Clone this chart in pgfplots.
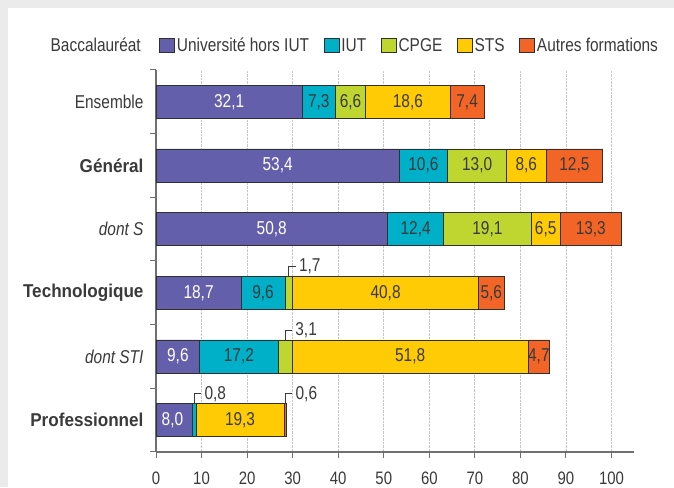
\documentclass[border=0pt]{standalone}
\usepackage{fontspec}
\setmainfont{Liberation Sans}[UprightFeatures={FakeStretch=0.83}, BoldFeatures={FakeStretch=0.92}, ItalicFeatures={FakeStretch=0.83}]
\usepackage{pgfplots}
\usepackage{pgfplotstable}
\pgfplotsset{compat=1.18}
\definecolor{univ}{HTML}{645FAA}
\definecolor{iut}{HTML}{00B0C8}
\definecolor{cpge}{HTML}{BED62F}
\definecolor{sts}{HTML}{FFCB05}
\definecolor{autres}{HTML}{F26526}
\definecolor{bggray}{HTML}{EBEBEB}
\definecolor{axisgray}{HTML}{707070}
\definecolor{txt}{HTML}{3A3A3A}
\definecolor{bord}{HTML}{303030}
\newcommand\fsz{\fontsize{18.6}{22}\selectfont}
\newcommand\ftz{\fontsize{18}{22}\selectfont}
\pgfplotstableread{
y  u    i    c    s    a
0  8.0  0.8  0.0  19.3 0.6
1  9.6  17.2 3.1  51.8 4.7
2  18.7 9.6  1.7  40.8 5.6
3  50.8 12.4 19.1 6.5  13.3
4  53.4 10.6 13.0 8.6  12.5
5  32.1 7.3  6.6  18.6 7.4
}\mydata
\tikzset{
  lab/.style={font=\fsz, text=txt, inner sep=0pt},
  labw/.style={font=\fsz, text=white, inner sep=0pt},
  lead/.style={line width=0.8pt, draw=txt},
  leadlab/.style={font=\fsz, text=txt, inner sep=0pt, anchor=west, xshift=3pt},
}
\begin{document}
\begin{tikzpicture}[x=1pt,y=1pt]
\useasboundingbox (0,0) rectangle (674,487);
\fill[bggray] (0,0) rectangle (674,487);
\fill[white] (8,0) rectangle (674,479);
\node[font=\fsz, text=txt, inner sep=0pt, anchor=base east] at (141,435) {Baccalauréat};
\begin{axis}[
  at={(156pt,35pt)}, anchor=south west,
  scale only axis, width=478.3pt, height=382pt,
  xbar stacked, bar width=33pt,
  xmin=0, xmax=105, ymin=-0.5, ymax=5.5,
  axis lines*=left,
  axis line style={axisgray, line width=1.2pt},
  xtick={0,10,...,100},
  /pgf/number format/assume math mode=true,
  tick align=outside, major tick length=6pt,
  tick style={axisgray, line width=1pt},
  xmajorgrids, major grid style={densely dotted, gray!45, line width=0.8pt},
  xticklabel style={font=\ftz, text=txt, yshift=-10.5pt},
  ytick={-0.5,0.5,...,5.5}, yticklabels={},
  extra y ticks={0,1,2,3,4,5},
  extra y tick labels={\textbf{Professionnel},\textit{dont STI},\textbf{Technologique},\textit{dont S},\textbf{Général},Ensemble},
  extra y tick style={major tick length=0pt, grid=none, yticklabel style={font=\fsz, text=txt, xshift=-9pt}},
  legend columns=-1,
  legend style={draw=none, fill=none, at={(0.0,1.064)}, anchor=west, font=\fsz, text=txt,
    nodes={inner sep=1pt},
    /tikz/every odd column/.append style={column sep=1pt},
    /tikz/every even column/.append style={column sep=13.5pt}},
  legend image code/.code={\draw[#1, line width=0.8pt, draw=bord] (0pt,-7pt) rectangle (15pt,7pt);},
]
\addplot[fill=univ, draw=bord, line width=0.8pt] table[x=u, y=y] {\mydata};
\addplot[fill=iut, draw=bord, line width=0.8pt] table[x=i, y=y] {\mydata};
\addplot[fill=cpge, draw=bord, line width=0.8pt] table[x=c, y=y] {\mydata};
\addplot[fill=sts, draw=bord, line width=0.8pt] table[x=s, y=y] {\mydata};
\addplot[fill=autres, draw=bord, line width=0.8pt] table[x=a, y=y] {\mydata};
\legend{Université hors IUT,IUT,CPGE,STS,Autres formations}
% label anchors (midpoints of segments)
\coordinate (e1) at (axis cs:16.05,5);
\coordinate (e2) at (axis cs:35.75,5);
\coordinate (e3) at (axis cs:42.7,5);
\coordinate (e4) at (axis cs:55.3,5);
\coordinate (e5) at (axis cs:68.3,5);
\coordinate (g1) at (axis cs:26.7,4);
\coordinate (g2) at (axis cs:58.7,4);
\coordinate (g3) at (axis cs:70.5,4);
\coordinate (g4) at (axis cs:81.3,4);
\coordinate (g5) at (axis cs:91.85,4);
\coordinate (s1) at (axis cs:25.4,3);
\coordinate (s2) at (axis cs:57.0,3);
\coordinate (s3) at (axis cs:72.75,3);
\coordinate (s4) at (axis cs:85.55,3);
\coordinate (s5) at (axis cs:95.45,3);
\coordinate (t1) at (axis cs:9.35,2);
\coordinate (t2) at (axis cs:23.5,2);
\coordinate (t4) at (axis cs:50.4,2);
\coordinate (t5) at (axis cs:73.6,2);
\coordinate (i1) at (axis cs:4.8,1);
\coordinate (i2) at (axis cs:18.2,1);
\coordinate (i4) at (axis cs:55.8,1);
\coordinate (i5) at (axis cs:84.05,1);
\coordinate (p1) at (axis cs:3.6,0);
\coordinate (p4) at (axis cs:18.45,0);
% leaders
\coordinate (ta) at (axis cs:29.15,2.26);
\coordinate (tb) at (axis cs:29.15,2.415);
\coordinate (tc) at (axis cs:30.7,2.415);
\coordinate (ia) at (axis cs:28.35,1.26);
\coordinate (ib) at (axis cs:28.35,1.415);
\coordinate (ic) at (axis cs:29.9,1.415);
\coordinate (pa) at (axis cs:8.4,0.26);
\coordinate (pb) at (axis cs:8.4,0.415);
\coordinate (pc) at (axis cs:9.95,0.415);
\coordinate (qa) at (axis cs:28.4,0.26);
\coordinate (qb) at (axis cs:28.4,0.415);
\coordinate (qc) at (axis cs:29.95,0.415);
\end{axis}
\node[labw] at (e1) {32,1};
\node[lab] at (e2) {7,3};
\node[lab] at (e3) {6,6};
\node[lab] at (e4) {18,6};
\node[lab] at (e5) {7,4};
\node[labw] at (g1) {53,4};
\node[lab] at (g2) {10,6};
\node[lab] at (g3) {13,0};
\node[lab] at (g4) {8,6};
\node[lab] at (g5) {12,5};
\node[labw] at (s1) {50,8};
\node[lab] at (s2) {12,4};
\node[lab] at (s3) {19,1};
\node[lab] at (s4) {6,5};
\node[lab] at (s5) {13,3};
\node[labw] at (t1) {18,7};
\node[lab] at (t2) {9,6};
\node[lab] at (t4) {40,8};
\node[lab] at (t5) {5,6};
\node[labw] at (i1) {9,6};
\node[lab] at (i2) {17,2};
\node[lab] at (i4) {51,8};
\node[lab] at (i5) {4,7};
\node[labw] at (p1) {8,0};
\node[lab] at (p4) {19,3};
\draw[lead] (ta) -- (tb) -- (tc);
\node[leadlab] at (tc) {1,7};
\draw[lead] (ia) -- (ib) -- (ic);
\node[leadlab] at (ic) {3,1};
\draw[lead] (pa) -- (pb) -- (pc);
\node[leadlab] at (pc) {0,8};
\draw[lead] (qa) -- (qb) -- (qc);
\node[leadlab] at (qc) {0,6};
\end{tikzpicture}
\end{document}
